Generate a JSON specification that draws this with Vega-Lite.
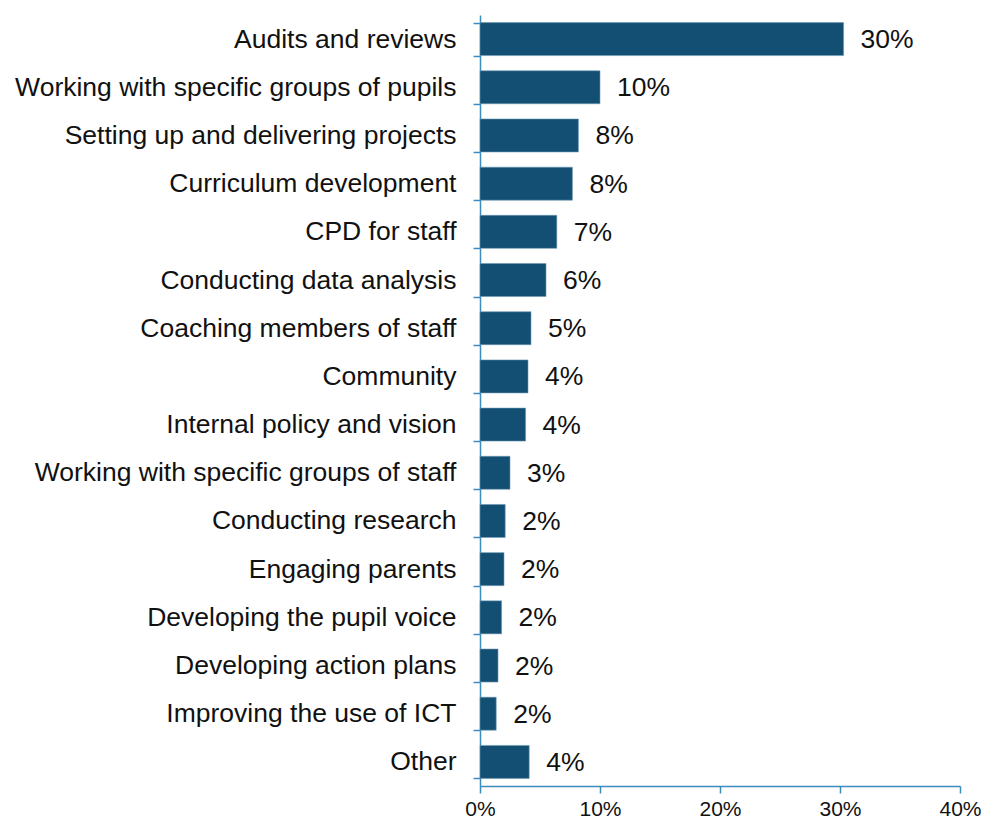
{
  "$schema": "https://vega.github.io/schema/vega-lite/v6.json",
  "width": 480,
  "height": 771,
  "autosize": {"type": "none"},
  "padding": {"left": 480, "top": 15, "right": 24, "bottom": 34},
  "background": "white",
  "config": {
    "view": {"stroke": null},
    "font": "Liberation Sans",
    "axis": {"grid": false, "domainColor": "#3b8dbd", "tickColor": "#3b8dbd", "labelColor": "#111111", "labelFont": "Liberation Sans", "titleFont": "Liberation Sans"}
  },
  "data": {
    "values": [
      {"activity": "Audits and reviews", "value": 0.303, "label": "30%"},
      {"activity": "Working with specific groups of pupils", "value": 0.100, "label": "10%"},
      {"activity": "Setting up and delivering projects", "value": 0.082, "label": "8%"},
      {"activity": "Curriculum development", "value": 0.077, "label": "8%"},
      {"activity": "CPD for staff", "value": 0.064, "label": "7%"},
      {"activity": "Conducting data analysis", "value": 0.055, "label": "6%"},
      {"activity": "Coaching members of staff", "value": 0.0425, "label": "5%"},
      {"activity": "Community", "value": 0.040, "label": "4%"},
      {"activity": "Internal policy and vision", "value": 0.038, "label": "4%"},
      {"activity": "Working with specific groups of staff", "value": 0.025, "label": "3%"},
      {"activity": "Conducting research", "value": 0.021, "label": "2%"},
      {"activity": "Engaging parents", "value": 0.020, "label": "2%"},
      {"activity": "Developing the pupil voice", "value": 0.018, "label": "2%"},
      {"activity": "Developing action plans", "value": 0.015, "label": "2%"},
      {"activity": "Improving the use of ICT", "value": 0.0135, "label": "2%"},
      {"activity": "Other", "value": 0.041, "label": "4%"}
    ]
  },
  "encoding": {
    "y": {
      "field": "activity",
      "type": "nominal",
      "sort": null,
      "scale": {"paddingInner": 0.315, "paddingOuter": 0.1575},
      "axis": {"title": null, "tickBand": "extent", "tickSize": 7, "labelPadding": 17, "labelFontSize": 26.5, "labelLimit": 480, "domainWidth": 1.5, "tickWidth": 1.5}
    },
    "x": {
      "field": "value",
      "type": "quantitative",
      "scale": {"domain": [0, 0.4], "nice": false},
      "axis": {"title": null, "format": ".0%", "values": [0, 0.1, 0.2, 0.3, 0.4], "tickSize": 7, "labelPadding": 5, "labelFontSize": 21, "labelFlush": false, "domainWidth": 1.5, "tickWidth": 1.5}
    }
  },
  "layer": [
    {"mark": {"type": "bar", "color": "#124f73", "stroke": "#6f9bb5", "strokeWidth": 0.6}},
    {"mark": {"type": "text", "align": "left", "baseline": "middle", "dx": 17, "dy": 1, "fontSize": 26.5, "color": "#111111"},
     "encoding": {"text": {"field": "label"}}}
  ]
}
